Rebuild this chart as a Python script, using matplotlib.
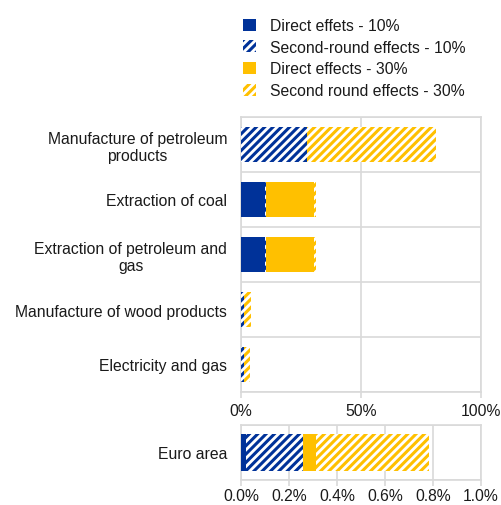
import matplotlib
matplotlib.use("Agg")
import matplotlib.pyplot as plt
from matplotlib.patches import Patch
from matplotlib.ticker import FuncFormatter, FixedLocator
import numpy as np

plt.rcParams['font.family'] = ['Liberation Sans', 'DejaVu Sans']
plt.rcParams['hatch.linewidth'] = 2.2

BLUE = '#003299'
YELLOW = '#FFC000'
GRID = '#d9d9d9'
TEXT = '#1a1a1a'
FS = 11.3

categories = ["Manufacture of petroleum\nproducts", "Extraction of coal",
              "Extraction of petroleum and\ngas", "Manufacture of wood products",
              "Electricity and gas"]
direct_10 = [0.0, 10.0, 10.0, 0.0, 0.0]
second_10 = [27.4, 0.3, 0.3, 1.4, 1.2]
direct_30 = [0.0, 20.3, 20.3, 0.0, 0.0]
second_30 = [54.0, 0.5, 0.5, 2.9, 2.5]

ea_label = ["Euro area"]
ea_direct_10 = [0.021]
ea_second_10 = [0.237]
ea_direct_30 = [0.053]
ea_second_30 = [0.474]

series_labels = ["Direct effets - 10%", "Second-round effects - 10%",
                 "Direct effects - 30%", "Second round effects - 30%"]
top_ticks = [0, 50, 100]
bottom_ticks = [0.0, 0.2, 0.4, 0.6, 0.8, 1.0]

W, H = 501, 506
fig = plt.figure(figsize=(W/100, H/100), dpi=100)

def ax_rect(l, t, r, b):
    return [l/W, 1 - b/H, (r-l)/W, (b-t)/H]

ax1 = fig.add_axes(ax_rect(241, 118, 481, 393))
ax2 = fig.add_axes(ax_rect(241, 426, 481, 481))

HATCH = '////'
styles = [dict(color=BLUE, hatch=None), dict(color=BLUE, hatch=HATCH),
          dict(color=YELLOW, hatch=None), dict(color=YELLOW, hatch=HATCH)]

def draw(ax, labels, data, height):
    y = np.arange(len(labels))
    left = np.zeros(len(labels))
    for vals, st in zip(data, styles):
        vals = np.array(vals, dtype=float)
        if st['hatch']:
            ax.barh(y, vals, left=left, height=height, facecolor='white',
                    edgecolor=st['color'], hatch=st['hatch'], linewidth=0, zorder=3)
        else:
            ax.barh(y, vals, left=left, height=height, color=st['color'],
                    linewidth=0, zorder=3)
        left += vals
    ax.set_yticks(y)
    ax.set_yticklabels(labels, multialignment='center')
    ax.set_ylim(len(labels) - 0.5, -0.5)
    ax.yaxis.set_minor_locator(FixedLocator(np.arange(len(labels) + 1) - 0.5))
    ax.grid(True, which='minor', axis='y', color=GRID, linewidth=1.2, zorder=0)
    ax.grid(True, which='major', axis='x', color=GRID, linewidth=1.2, zorder=0)
    ax.tick_params(axis='y', which='both', length=0, labelsize=FS, labelcolor=TEXT, pad=10)
    ax.tick_params(axis='x', which='major', length=4, width=1.2, color=GRID,
                   labelsize=FS, labelcolor=TEXT, pad=4)
    for sp in ax.spines.values():
        sp.set_color(GRID)
        sp.set_linewidth(1.2)

draw(ax1, categories, [direct_10, second_10, direct_30, second_30], 0.65)
ax1.set_xlim(0, 100)
ax1.set_xticks(top_ticks)
ax1.xaxis.set_major_formatter(FuncFormatter(lambda v, p: f"{v:.0f}%"))

draw(ax2, ea_label, [ea_direct_10, ea_second_10, ea_direct_30, ea_second_30], 0.68)
ax2.set_xlim(0, 1.0)
ax2.set_xticks(bottom_ticks)
ax2.tick_params(axis='x', pad=2)
ax2.xaxis.set_major_formatter(FuncFormatter(lambda v, p: f"{v:.1f}%"))

handles = []
for st, lab in zip(styles, series_labels):
    if st['hatch']:
        handles.append(Patch(facecolor='white', edgecolor=st['color'], hatch=st['hatch'],
                             linewidth=0, label=lab))
    else:
        handles.append(Patch(facecolor=st['color'], linewidth=0, label=lab))

fig.legend(handles=handles, loc='upper left', bbox_to_anchor=(243/W, 1 - 19/H),
           frameon=False, fontsize=FS, handlelength=0.8, handleheight=0.8,
           handletextpad=0.9, labelspacing=0.43, labelcolor=TEXT, borderpad=0,
           borderaxespad=0)

fig.savefig('out.png', dpi=100)
